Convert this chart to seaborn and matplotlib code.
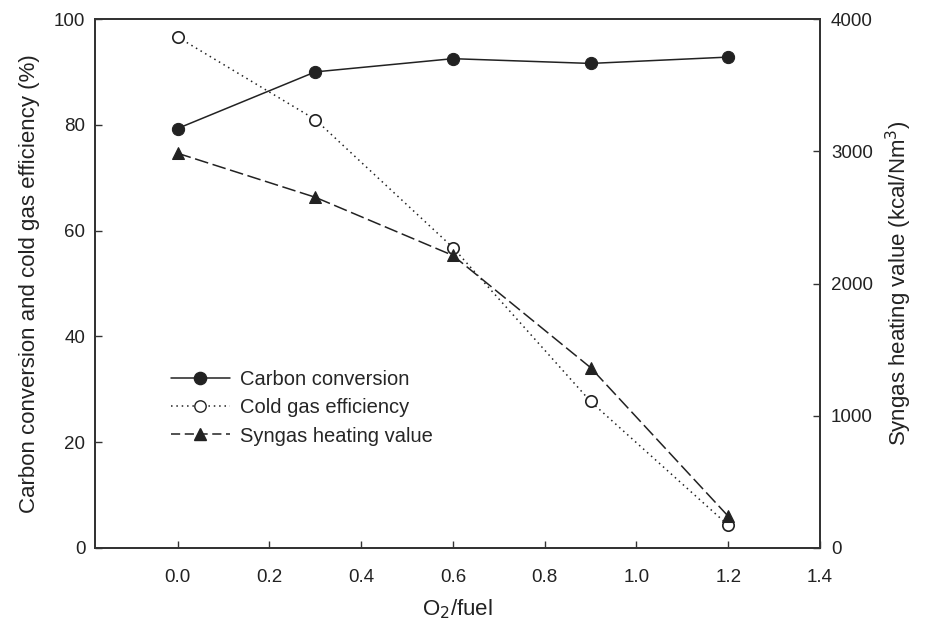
import matplotlib
matplotlib.use("Agg")
import matplotlib.pyplot as plt
import seaborn as sns
import pandas as pd
from matplotlib.lines import Line2D

o2_fuel = [0.0, 0.3, 0.6, 0.9, 1.2]
carbon_conversion = [79.3, 90.0, 92.5, 91.6, 92.8]
cold_gas_efficiency = [96.6, 81.0, 56.8, 27.7, 4.3]
syngas_heating_value = [2985, 2652, 2212, 1364, 240]

x_ticks = [0.0, 0.2, 0.4, 0.6, 0.8, 1.0, 1.2, 1.4]
y_left_ticks = [0, 20, 40, 60, 80, 100]
y_right_ticks = [0, 1000, 2000, 3000, 4000]

sns.set_theme(style="ticks")
plt.rcParams['font.family'] = ['Liberation Sans', 'DejaVu Sans']

df = pd.DataFrame({"x": o2_fuel, "cc": carbon_conversion,
                   "cge": cold_gas_efficiency, "hv": syngas_heating_value})

fig = plt.figure(figsize=(9.36, 6.31), dpi=100)
ax = fig.add_axes([95/936, 1 - 548/631, (820-95)/936, (548-19)/631])
ax2 = ax.twinx()

dark = "#222222"
ms = 8.8
sns.lineplot(data=df, x="x", y="cc", ax=ax, color=dark, lw=1.1, marker="o",
             markersize=ms, markerfacecolor=dark, markeredgecolor=dark)
sns.lineplot(data=df, x="x", y="cge", ax=ax, color=dark, lw=1.1, marker="o",
             markersize=ms - 0.6, markerfacecolor="white", markeredgecolor=dark,
             markeredgewidth=1.2, linestyle=(0, (1, 2.5)))
sns.lineplot(data=df, x="x", y="hv", ax=ax2, color=dark, lw=1.1, marker="^",
             markersize=ms, markerfacecolor=dark, markeredgecolor=dark,
             linestyle=(0, (9, 3)))

ax.set_xlim(-0.18, 1.4)
ax.set_ylim(0, 100)
ax2.set_ylim(0, 4000)
ax.set_xticks(x_ticks)
ax.set_xticklabels([f"{t:.1f}" for t in x_ticks])
ax.set_yticks(y_left_ticks)
ax2.set_yticks(y_right_ticks)

for a in (ax, ax2):
    for s in a.spines.values():
        s.set_color("#333333")
        s.set_linewidth(1.3)
ax.tick_params(axis="both", direction="in", length=5, width=1, colors="#333333",
               labelsize=13.5, labelcolor="#222222", pad=7)
ax.tick_params(axis="x", pad=15)
ax2.tick_params(axis="y", direction="in", length=5, width=1, colors="#333333",
                labelsize=13.5, labelcolor="#222222", pad=8)

ax.set_xlabel("O$_2$/fuel", fontsize=16, color="#222222", labelpad=8)
ax.set_ylabel("Carbon conversion and cold gas efficiency (%)", fontsize=16,
              color="#222222", labelpad=10)
ax2.set_ylabel("Syngas heating value (kcal/Nm$^3$)", fontsize=16,
               color="#222222", labelpad=8)

handles = [
    Line2D([], [], color=dark, lw=1.1, marker="o", markersize=ms,
           markerfacecolor=dark, markeredgecolor=dark),
    Line2D([], [], color=dark, lw=1.1, marker="o", markersize=ms - 0.6,
           markerfacecolor="white", markeredgecolor=dark, linestyle=(0, (1, 2.5))),
    Line2D([], [], color=dark, lw=1.1, marker="^", markersize=ms,
           markerfacecolor=dark, markeredgecolor=dark, linestyle=(0, (6, 3))),
]
labels = ["Carbon conversion", "Cold gas efficiency", "Syngas heating value"]
ax.legend(handles, labels, loc="upper left", bbox_to_anchor=(0.08, 0.37),
          frameon=False, fontsize=14.5, handlelength=2.9, labelspacing=0.45,
          handletextpad=0.5)

fig.savefig("out.png", dpi=100)
